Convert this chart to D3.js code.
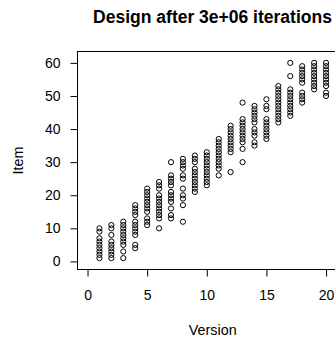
<!DOCTYPE html>
<html>
<head>
<meta charset="utf-8">
<script src="https://cdn.jsdelivr.net/npm/d3@7"></script>
<style>
  html, body { margin: 0; padding: 0; background: #fff; overflow: hidden; }
  svg { display: block; font-family: "Liberation Sans", Arial, sans-serif; }
</style>
</head>
<body>
<script>
// Items assigned to each version of the design
const versions = [1, 2, 3, 4, 5, 6, 7, 8, 9, 10, 11, 12, 13, 14, 15, 16, 17, 18, 19, 20];
const itemsByVersion = [
  [1, 2, 3, 4, 5, 6, 7, 9, 10],
  [1, 2, 3, 4, 5, 6, 8, 10, 11],
  [1, 3, 5, 6, 7, 8, 9, 10, 11, 12],
  [4, 5, 8, 9, 10, 11, 12, 14, 15, 16, 17],
  [11, 12, 13, 15, 16, 17, 18, 19, 20, 21, 22],
  [10, 13, 14, 15, 16, 17, 18, 19, 20, 22, 23, 24],
  [13, 14, 16, 18, 19, 20, 21, 23, 24, 25, 26, 30],
  [12, 17, 19, 20, 22, 25, 26, 28, 29, 30, 31],
  [21, 22, 23, 24, 25, 26, 27, 28, 30, 31, 32],
  [23, 24, 25, 26, 27, 28, 29, 30, 31, 32, 33],
  [26, 28, 29, 30, 31, 32, 33, 34, 35, 36, 37],
  [27, 33, 34, 35, 36, 37, 38, 39, 40, 41],
  [30, 34, 36, 37, 38, 39, 40, 41, 42, 43, 48],
  [35, 36, 38, 39, 40, 42, 43, 44, 45, 46, 47],
  [37, 38, 39, 40, 41, 42, 43, 46, 47, 49],
  [42, 43, 44, 45, 46, 47, 48, 49, 50, 51, 52, 53],
  [44, 45, 46, 47, 48, 49, 50, 51, 52, 56, 60],
  [48, 49, 50, 51, 54, 55, 56, 57, 58, 59],
  [52, 53, 54, 55, 56, 57, 58, 59, 60],
  [50, 51, 53, 54, 55, 56, 57, 58, 59, 60]
];
const xTicks = [0, 5, 10, 15, 20];
const yTicks = [0, 10, 20, 30, 40, 50, 60];
const titleText = "Design after 3e+06 iterations";
const xLabel = "Version";
const yLabel = "Item";

const W = 335, H = 338;
const svg = d3.select("body").append("svg").attr("width", W).attr("height", H);

// Plot region (user coordinates padded 4% like base graphics)
const xDom = [0, 21], yDom = [0, 61];
const padX = 0.04 * (xDom[1] - xDom[0]), padY = 0.04 * (yDom[1] - yDom[0]);
const box = { left: 77.5, right: 348, top: 51.5, bottom: 269.5 };

const x = d3.scaleLinear().domain([xDom[0] - padX, xDom[1] + padX]).range([box.left, box.right]);
const y = d3.scaleLinear().domain([yDom[0] - padY, yDom[1] + padY]).range([box.bottom, box.top]);

const points = [];
versions.forEach((v, i) => itemsByVersion[i].forEach(it => points.push({ v, it })));

svg.append("g").selectAll("circle").data(points).join("circle")
  .attr("cx", d => x(d.v))
  .attr("cy", d => y(d.it))
  .attr("r", 2.6)
  .attr("fill", "none")
  .attr("stroke", "#000")
  .attr("stroke-width", 1);

// Frame
svg.append("rect")
  .attr("x", box.left).attr("y", box.top)
  .attr("width", box.right - box.left).attr("height", box.bottom - box.top)
  .attr("fill", "none").attr("stroke", "#000").attr("stroke-width", 1);

// Axes
const xAxis = d3.axisBottom(x).tickValues(xTicks).tickSize(7).tickPadding(14).tickSizeOuter(0);
const gx = svg.append("g").attr("transform", `translate(0,${box.bottom})`).call(xAxis);
gx.select(".domain").attr("d", `M${x(xTicks[0])},0H${x(xTicks[xTicks.length - 1])}`);
gx.selectAll("text").attr("font-size", 14).attr("fill", "#000").attr("font-family", "Liberation Sans, Arial, sans-serif");

const yAxis = d3.axisLeft(y).tickValues(yTicks).tickSize(7).tickPadding(10).tickSizeOuter(0);
const gy = svg.append("g").attr("transform", `translate(${box.left},0)`).call(yAxis);
gy.select(".domain").attr("d", `M0,${y(yTicks[0])}V${y(yTicks[yTicks.length - 1])}`);
gy.selectAll("text").attr("font-size", 14).attr("fill", "#000").attr("font-family", "Liberation Sans, Arial, sans-serif");

// Titles
svg.append("text")
  .attr("x", 212.5).attr("y", 23)
  .attr("text-anchor", "middle").attr("font-size", 17.5).attr("font-weight", "bold")
  .text(titleText);

svg.append("text")
  .attr("x", (box.left + box.right) / 2).attr("y", 335)
  .attr("text-anchor", "middle").attr("font-size", 14.4)
  .text(xLabel);

svg.append("text")
  .attr("transform", `translate(23,${(box.top + box.bottom) / 2}) rotate(-90)`)
  .attr("text-anchor", "middle").attr("font-size", 14.4)
  .text(yLabel);
</script>
</body>
</html>
